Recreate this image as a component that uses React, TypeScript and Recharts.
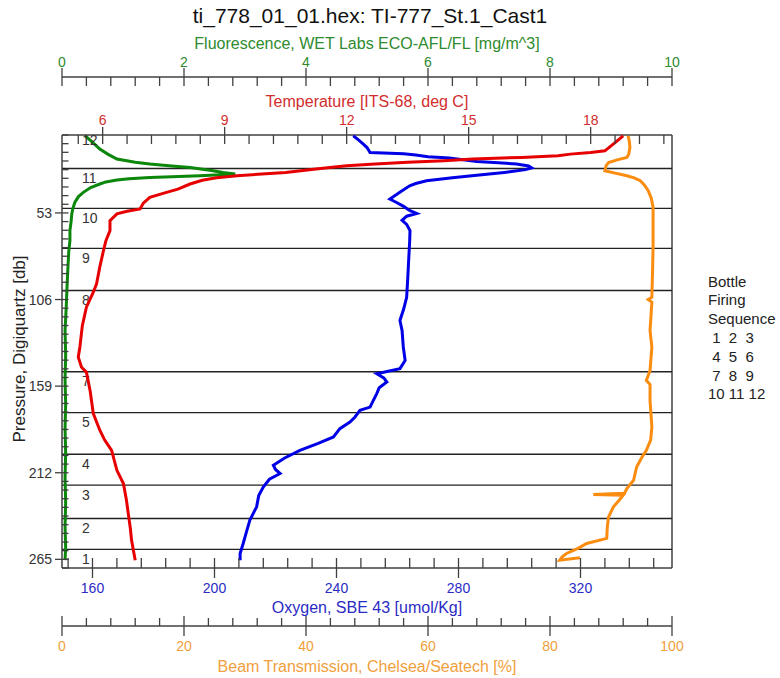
import React from 'react';
import { ScatterChart, Scatter, XAxis, YAxis, ReferenceLine } from 'recharts';

const TITLE = 'ti_778_01_01.hex: TI-777_St.1_Cast1';

// temperature profile [db] -> [deg C]
const tempPressure = [5.8, 10, 15, 16, 17, 18, 19, 20, 21, 22, 23, 24.1, 26, 28.2, 30.2, 31.5, 33, 35.3, 38.4, 40.4, 43.5, 47, 50.6, 52, 53.6, 57.7, 63.8, 70, 76, 86, 96.4, 101.5, 110.7, 122, 135, 141.3, 147.4, 150.4, 161.6, 175.8, 186, 192, 198.3, 210.5, 218.6, 228, 237, 246, 253.2, 260, 265.5];
const tempValues = [18.8, 18.6, 18.35, 18.0, 17.5, 17.2, 16.3, 15.1, 14.4, 13.5, 12.7, 12.0, 11.3, 10.5, 9.3, 8.8, 8.45, 8.15, 7.85, 7.57, 7.16, 7.0, 6.92, 6.6, 6.35, 6.18, 6.18, 6.08, 6.02, 5.93, 5.85, 5.77, 5.6, 5.5, 5.44, 5.4, 5.48, 5.6, 5.69, 5.77, 5.93, 6.05, 6.22, 6.35, 6.51, 6.58, 6.63, 6.68, 6.71, 6.76, 6.8];

// fluorescence [mg/m^3]
const flPressure = [5.8, 9, 13.9, 17, 20, 22, 23.1, 24.3, 25.2, 27, 28.2, 29.2, 30.2, 30.8, 31.3, 32.1, 32.9, 34, 35.3, 37.5, 40.4, 43, 46.6, 50, 53.6, 58, 63.8, 70, 77, 84.2, 92, 100.5, 110, 125, 140, 155, 170, 185, 200, 215, 230, 245, 258, 265.5];
const flValues = [0.38, 0.48, 0.62, 0.75, 0.9, 1.2, 1.44, 1.8, 2.1, 2.45, 2.64, 2.84, 2.26, 1.8, 1.44, 1.1, 0.9, 0.72, 0.62, 0.47, 0.35, 0.27, 0.21, 0.18, 0.16, 0.15, 0.13, 0.13, 0.11, 0.1, 0.09, 0.08, 0.07, 0.05, 0.06, 0.05, 0.06, 0.05, 0.06, 0.05, 0.06, 0.05, 0.06, 0.05];

// oxygen [umol/Kg]
const oxyPressure = [5.8, 8, 10.9, 13, 16, 16.8, 17.5, 18.6, 19.4, 21.5, 22.3, 23, 24.3, 25.5, 26.5, 27.5, 28.2, 30, 31.5, 33.3, 35, 36.4, 40, 44.5, 46.6, 49, 51.6, 53.3, 55, 57.5, 60, 63.8, 70, 77, 84.2, 95, 104.6, 112, 118.8, 125, 135, 143.3, 148.3, 151.4, 154, 156.5, 160, 163.6, 168, 171.8, 173.8, 178, 181, 185, 190.1, 194, 198.3, 203, 207.4, 210, 212.5, 216, 220.7, 226, 232.9, 241, 248, 255.3, 261.4, 265.5];
const oxyValues = [245.5, 247, 248.8, 250, 251, 262, 266, 270, 277, 286, 293, 299, 303, 304, 302, 298, 295, 286, 278, 269.5, 266, 264, 261, 257.5, 259.7, 262, 264.1, 266.3, 263, 261.5, 263, 264.1, 264, 263.8, 263.6, 263.3, 263, 262, 260.8, 261.5, 261.9, 262.5, 260.8, 253.2, 255.5, 256.5, 254, 253.2, 252, 251, 247.7, 246, 244.4, 241.1, 239, 234, 228, 223, 219.3, 220, 221.5, 218, 216, 214.5, 213.8, 211.6, 210.5, 209.4, 208.4, 208.4];

// beam transmission [%]
const beamPressure = [5.8, 9, 13, 17, 19, 20.5, 22.1, 24, 27.2, 28.5, 30.2, 31.5, 33.3, 36, 39.4, 44, 49.6, 60, 74, 90, 104.6, 106, 107.6, 125, 135, 149.4, 155.5, 158, 167.7, 184, 192, 198.3, 203, 208.5, 216.6, 221.7, 224.5, 225.3, 225.8, 229, 232.9, 239, 245, 252.2, 255.3, 258.3, 261.4, 263.5, 265.5, 264];
const beamValues = [92.8, 93.0, 93.1, 92.9, 92.6, 91, 89.6, 89.2, 89.0, 90.5, 92.6, 93.8, 94.8, 95.5, 96.1, 96.6, 96.9, 96.9, 96.9, 96.8, 96.7, 96.1, 96.7, 96.4, 96.7, 96.4, 95.8, 96.4, 96.4, 96.7, 96.5, 95.8, 95, 94.2, 93.7, 92.6, 92.2, 87.1, 92, 91.3, 90.4, 89.6, 89.4, 89.3, 86, 84.6, 82.7, 82, 81.6, 84.9];

// bottle firing depths [db]; bottles 6 and 7 were fired together
const bottleDepths = [258.9, 240, 219.6, 200.7, 175.2, 150.2, 100.5, 74.7, 50.2, 25.8];
const bottleLabels = ['1', '2', '3', '4', '5', '7', '8', '9', '10', '11'];

const flMajor = [0, 2, 4, 6, 8, 10];
const tempMajor = [6, 9, 12, 15, 18];
const oxyMajor = [160, 200, 240, 280, 320];
const beamMajor = [0, 20, 40, 60, 80, 100];
const pressureMajor = [53, 106, 159, 212, 265];

const legendLines = ['Bottle', 'Firing', 'Sequence', ' 1  2  3', ' 4  5  6', ' 7  8  9', '10 11 12'];

const steps = (from: number, to: number, step: number) =>
  Array.from({ length: Math.round((to - from) / step) + 1 }, (_, i) => +(from + i * step).toFixed(4));

const zip = (ps: number[], vs: number[]) => ps.map((p, i) => ({ p, x: vs[i] }));

const FONT = '"Liberation Sans", Arial, sans-serif';
const GREEN = '#0b870b';
const RED = '#e60000';
const BLUE = '#0000e6';
const ORANGE = '#fa8c0f';
const GREEN_TXT = '#2e8b2e';
const RED_TXT = '#d22d2d';
const BLUE_TXT = '#2b2bc4';
const ORANGE_TXT = '#f0a03c';
const AXIS = '#404040';

// axis ids: stacked from the plot outwards in id order
const TEMP = 'x1temp';
const FL = 'x2fl';
const OXY = 'x1oxy';
const BEAM = 'x2beam';

const isMajor = (majors: number[], v: number) => majors.some(m => Math.abs(m - v) < 1e-6);

// tick mark + label drawn relative to the axis line
const xTick = (majors: number[], color: string, minor: [number, number], major: [number, number], labelDy: number) =>
  (props: any) => {
    const { x, y, payload } = props;
    const big = isMajor(majors, payload.value);
    const [a, b] = big ? major : minor;
    return (
      <g>
        <line x1={x} x2={x} y1={y + a} y2={y + b} stroke={AXIS} strokeWidth={1.3} />
        {big && (
          <text x={x} y={y + labelDy} textAnchor="middle" dominantBaseline="central" fontSize={14} fontFamily={FONT} fill={color}>
            {payload.value}
          </text>
        )}
      </g>
    );
  };

const yTick = (props: any) => {
  const { x, y, payload } = props;
  const big = isMajor(pressureMajor, payload.value);
  return (
    <g>
      <line x1={big ? x - 7 : x} x2={x + 6.5} y1={y} y2={y} stroke={AXIS} strokeWidth={1.3} />
      {big && (
        <text x={x - 10} y={y} textAnchor="end" dominantBaseline="central" fontSize={14} fontFamily={FONT} fill="#333">
          {payload.value}
        </text>
      )}
    </g>
  );
};

const bottleLabel = (text: string) => (props: any) => (
  <text x={props.viewBox.x + 20} y={props.viewBox.y + 9.5} dominantBaseline="central" fontSize={14} fontFamily={FONT} fill="#333">
    {text}
  </text>
);

export default function App() {
  const axisLine = { stroke: AXIS, strokeWidth: 1.5 };
  return (
    <div style={{ position: 'absolute', left: 0, top: 0, width: 780, height: 678, background: '#fff' }}>
      <ScatterChart width={780} height={678} margin={{ top: 0, right: 108, bottom: 0, left: 0 }}>
        <XAxis xAxisId={TEMP} orientation="top" type="number" dataKey="x" domain={[5, 20]} ticks={steps(5.4, 19.8, 0.6)}
          interval={0} allowDataOverflow height={58} tickSize={0} tickMargin={0} tickLine={false} axisLine={axisLine}
          tick={xTick(tempMajor, RED_TXT, [0, 9], [-8, 9], -15)} />
        <XAxis xAxisId={FL} orientation="top" type="number" dataKey="x" domain={[0, 10]} ticks={steps(0, 10, 0.4)}
          interval={0} allowDataOverflow height={77} tickSize={0} tickMargin={0} tickLine={false} axisLine={axisLine}
          tick={xTick(flMajor, GREEN_TXT, [0, 9], [-9, 9], -15)} />
        <XAxis xAxisId={OXY} orientation="bottom" type="number" dataKey="x" domain={[150, 350]} ticks={steps(152, 344, 8)}
          interval={0} allowDataOverflow height={58} tickSize={0} tickMargin={0} tickLine={false} axisLine={axisLine}
          tick={xTick(oxyMajor, BLUE_TXT, [-10, 0], [-10, 10], 20)} />
        <XAxis xAxisId={BEAM} orientation="bottom" type="number" dataKey="x" domain={[0, 100]} ticks={steps(0, 100, 4)}
          interval={0} allowDataOverflow height={52} tickSize={0} tickMargin={0} tickLine={false} axisLine={axisLine}
          tick={xTick(beamMajor, ORANGE_TXT, [-8, 0], [-10, 10], 20)} />
        <YAxis type="number" dataKey="p" domain={[5.3, 270.3]} reversed ticks={steps(5.3, 270.3, 5.3)} interval={0}
          allowDataOverflow width={62} tickSize={0} tickMargin={0} tickLine={false} axisLine={axisLine} tick={yTick} />

        <ReferenceLine xAxisId={FL} x={10} stroke={AXIS} strokeWidth={1.5} />
        {bottleDepths.map((d, i) => (
          <ReferenceLine key={i} xAxisId={FL} y={d} stroke="#222" strokeWidth={1.4} label={bottleLabel(bottleLabels[i])} />
        ))}

        <Scatter xAxisId={FL} data={zip(flPressure, flValues)} line={{ stroke: GREEN, strokeWidth: 3 }} shape={() => <g />} isAnimationActive={false} />
        <Scatter xAxisId={OXY} data={zip(oxyPressure, oxyValues)} line={{ stroke: BLUE, strokeWidth: 3 }} shape={() => <g />} isAnimationActive={false} />
        <Scatter xAxisId={BEAM} data={zip(beamPressure, beamValues)} line={{ stroke: ORANGE, strokeWidth: 3 }} shape={() => <g />} isAnimationActive={false} />
        <Scatter xAxisId={TEMP} data={zip(tempPressure, tempValues)} line={{ stroke: RED, strokeWidth: 3 }} shape={() => <g />} isAnimationActive={false} />
      </ScatterChart>

      <svg width={780} height={678} style={{ position: 'absolute', left: 0, top: 0, pointerEvents: 'none' }} fontFamily={FONT}>
        <text x={370} y={15} textAnchor="middle" dominantBaseline="central" fontSize={21} fill="#111">{TITLE}</text>
        <text x={367} y={43} textAnchor="middle" dominantBaseline="central" fontSize={16} fill={GREEN_TXT}>Fluorescence, WET Labs ECO-AFL/FL [mg/m^3]</text>
        <text x={367} y={101} textAnchor="middle" dominantBaseline="central" fontSize={16} fill={RED_TXT}>Temperature [ITS-68, deg C]</text>
        <text x={367} y={607} textAnchor="middle" dominantBaseline="central" fontSize={16} fill={BLUE_TXT}>Oxygen, SBE 43 [umol/Kg]</text>
        <text x={367} y={666} textAnchor="middle" dominantBaseline="central" fontSize={16} fill={ORANGE_TXT}>Beam Transmission, Chelsea/Seatech [%]</text>
        <text transform="translate(19,349) rotate(-90)" textAnchor="middle" dominantBaseline="central" fontSize={17} fill="#222">Pressure, Digiquartz [db]</text>
        <text x={82} y={140} dominantBaseline="central" fontSize={14} fill="#333">12</text>
        {legendLines.map((t, i) => (
          <text key={t} x={708} y={281 + i * 18.8} dominantBaseline="central" fontSize={15} fill="#222" style={{ whiteSpace: 'pre' }}>{t}</text>
        ))}
      </svg>
    </div>
  );
}
